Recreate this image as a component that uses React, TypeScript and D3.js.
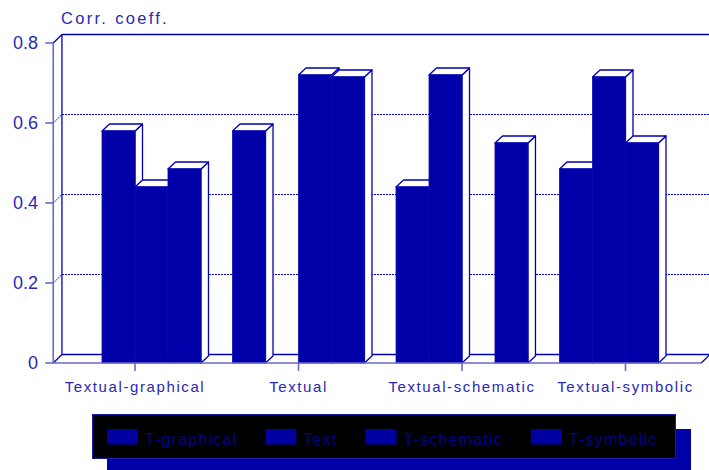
import React from 'react';
import * as d3 from 'd3';

const groups = ['Textual-graphical', 'Textual', 'Textual-schematic', 'Textual-symbolic'];
const series = ['T-graphical', 'Text', 'T-schematic', 'T-symbolic'];
const tGraphical: (number | null)[] = [null, 0.58, 0.44, 0.485];
const text: (number | null)[] = [0.58, null, 0.72, 0.715];
const tSchematic: (number | null)[] = [0.44, 0.72, null, 0.55];
const tSymbolic: (number | null)[] = [0.485, 0.715, 0.55, null];
const seriesValues = [tGraphical, text, tSchematic, tSymbolic];
const yTicks = [0, 0.2, 0.4, 0.6, 0.8];
const yTickLabels = ['0', '0.2', '0.4', '0.6', '0.8'];
const yTitle = 'Corr. coeff.';

const W = 709;
const H = 470;
const FONT = '"Liberation Sans", Arial, sans-serif';
const BAR = '#0000a8';
const LINE = '#0000b4';
const LIGHT = '#6a6ac8';
const TXT = '#2828b4';

export default function App() {
  const x0 = 53.25, x1 = 707.25;
  const y = d3.scaleLinear().domain([0, 0.8]).range([363, 43]);
  const xg = d3.scaleBand<string>().domain(groups).range([x0, x1]).paddingInner(0.193).paddingOuter(0.0965);
  const xs = d3.scaleBand<string>().domain(series).range([0, xg.bandwidth()]).padding(0);
  const wdx = 8.7, wdy = 8.5; // wall depth
  const bdx = 7.5, bdy = 7; // bar depth
  const yTop = y(0.8);
  const yBase = y(0);

  const measure = (s: string, size: number, ls: number) => {
    const c = document.createElement('canvas').getContext('2d')!;
    c.font = `${size}px ${FONT}`;
    return c.measureText(s).width + ls * s.length;
  };
  const legFont = 16, legLs = 1.2;
  let lx = 107;
  const legendItems = series.map((s) => {
    const item = { name: s, sx: lx, tx: lx + 38 };
    lx = lx + 38 + measure(s, legFont, legLs) + 28;
    return item;
  });

  const bars: React.ReactNode[] = [];
  groups.forEach((g, gi) => {
    series.forEach((s, si) => {
      const v = seriesValues[si][gi];
      if (v == null) return;
      const xa = (xg(g) as number) + (xs(s) as number);
      const xb = xa + xs.bandwidth();
      const yt = y(v);
      bars.push(
        <g key={g + s}>
          <path
            d={`M${xb},${yt}L${xb + bdx},${yt - bdy}L${xb + bdx},${yBase - bdy}L${xb},${yBase}Z`}
            fill="#fff" stroke={LINE} strokeWidth={1.3} strokeLinejoin="round" />
          <path
            d={`M${xa},${yt}L${xa + bdx},${yt - bdy}L${xb + bdx},${yt - bdy}L${xb},${yt}Z`}
            fill="#fff" stroke={LINE} strokeWidth={1.3} strokeLinejoin="round" />
          <rect x={xa} y={yt} width={xb - xa} height={yBase - yt} fill={BAR} stroke="#0a0aac" strokeWidth={0.8} />
        </g>
      );
    });
  });

  return (
    <svg width={W} height={H} style={{ position: 'absolute', left: 0, top: 0, background: '#fff' }}>
      <text x={61} y={24} fontFamily={FONT} fontSize={16.5} letterSpacing={2.3} fill={TXT}>{yTitle}</text>

      {yTicks.filter((t) => t > 0 && t < 0.8).map((t) => (
        <g key={'g' + t}>
          <line x1={x0 + wdx} x2={W + 2} y1={y(t) - wdy} y2={y(t) - wdy} stroke={LINE} strokeWidth={1} strokeDasharray="2,1" />
          <line x1={x0} x2={x0 + wdx} y1={y(t)} y2={y(t) - wdy} stroke={LINE} strokeWidth={1} strokeDasharray="2,1" />
        </g>
      ))}

      <line x1={x0 + wdx} x2={W + 2} y1={yTop - wdy} y2={yTop - wdy} stroke={LINE} strokeWidth={1.3} />
      <line x1={x0 + wdx} x2={x0 + wdx} y1={yTop - wdy} y2={yBase - wdy} stroke={LINE} strokeWidth={1.3} />
      <line x1={x0} x2={x0 + wdx} y1={yTop} y2={yTop - wdy} stroke={LINE} strokeWidth={1.3} />
      <line x1={x0 + wdx} x2={W + 2} y1={yBase - wdy} y2={yBase - wdy} stroke={LINE} strokeWidth={1.3} />
      <line x1={x0} x2={x0 + wdx} y1={yBase} y2={yBase - wdy} stroke={LINE} strokeWidth={1.3} />
      <line x1={x1 - 6} x2={x1 - 6 + wdx} y1={yBase} y2={yBase - wdy} stroke={LINE} strokeWidth={1.3} />

      {bars}

      <line x1={x0} x2={x0} y1={yTop} y2={yBase} stroke={LIGHT} strokeWidth={1.6} />
      <line x1={x0} x2={x1 - 6} y1={yBase} y2={yBase} stroke={LIGHT} strokeWidth={1.6} />
      {yTicks.map((t, i) => (
        <g key={'yt' + t}>
          <line x1={x0 - 8} x2={x0} y1={y(t)} y2={y(t)} stroke={LIGHT} strokeWidth={1.6} />
          <text x={38} y={y(t)} dy="0.36em" textAnchor="end" fontFamily={FONT} fontSize={18} fill={TXT}>{yTickLabels[i]}</text>
        </g>
      ))}
      {groups.map((g) => {
        const cx = (xg(g) as number) + xg.bandwidth() / 2;
        return (
          <g key={'xt' + g}>
            <line x1={cx} x2={cx} y1={yBase} y2={yBase + 8} stroke={LIGHT} strokeWidth={1.6} />
            <text x={cx} y={391.5} textAnchor="middle" fontFamily={FONT} fontSize={15} letterSpacing={1.6} fill={TXT}>{g}</text>
          </g>
        );
      })}

      <rect x={107} y={429} width={584} height={46} fill={BAR} />
      <rect x={92.5} y={414.5} width={583} height={44} fill="#000" stroke="#1a1aa8" strokeWidth={1} />
      {legendItems.map((it) => (
        <g key={'l' + it.name}>
          <rect x={it.sx} y={429} width={31} height={15.5} fill="#0000a0" />
          <text x={it.tx} y={445} fontFamily={FONT} fontSize={legFont} letterSpacing={legLs} fill="#000094">{it.name}</text>
        </g>
      ))}
    </svg>
  );
}
